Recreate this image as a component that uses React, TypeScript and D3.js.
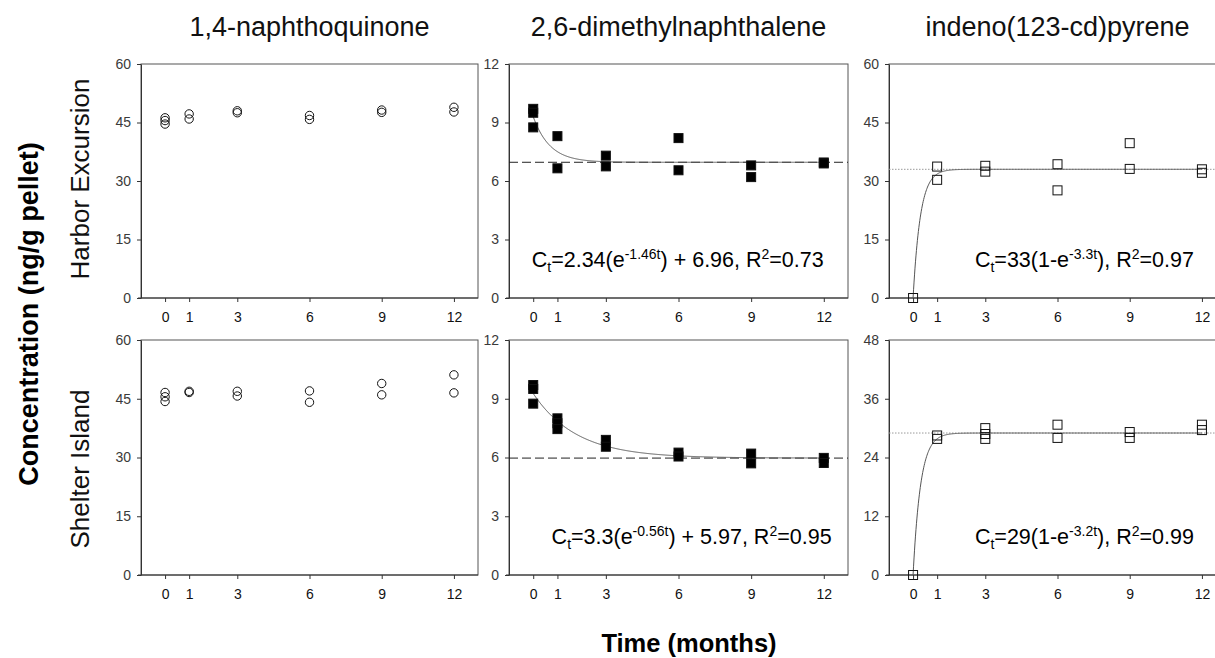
import React, { useEffect, useRef } from "react";
import * as d3 from "d3";

// sampling times (months) and chart labels
const months = [0, 1, 3, 6, 9, 12];
const compounds = ["1,4-naphthoquinone", "2,6-dimethylnaphthalene", "indeno(123-cd)pyrene"];
const sites = ["Harbor Excursion", "Shelter Island"];

// replicate concentrations (ng/g pellet), one list per sampling time
const harborNQ = [[46.2, 45.5, 44.6], [47.2, 45.9], [48.0, 47.5], [46.8, 45.8], [48.2, 47.6], [48.9, 47.7]];
const harborDMN = [[9.7, 9.5, 8.75], [8.3, 6.65], [7.3, 6.75], [8.2, 6.55], [6.8, 6.2], [6.95, 6.9]];
const harborIP = [[0], [33.7, 30.3], [33.9, 32.4], [34.3, 27.6], [39.7, 33.1], [33.0, 32.1]];
const shelterNQ = [[46.6, 45.5, 44.3], [46.9, 46.6], [46.9, 45.7], [47.0, 44.1], [48.9, 46.0], [51.1, 46.5]];
const shelterDMN = [[9.7, 9.5, 8.75], [8.0, 7.75, 7.45], [6.9, 6.55], [6.25, 6.05], [6.2, 5.7], [5.98, 5.72]];
const shelterIP = [[0], [28.5, 27.8], [30.0, 28.8, 27.8], [30.7, 28.0], [29.2, 28.0], [30.7, 29.6]];

// y axis maxima per panel (row x column)
const yMaxes = [[60, 12, 60], [60, 12, 48]];

// fitted model parameters
const harborDMNFit = { a: 2.34, k: 1.46, c: 6.96 };
const harborIPFit = { a: 33, k: 3.3 };
const shelterDMNFit = { a: 3.3, k: 0.56, c: 5.97 };
const shelterIPFit = { a: 29, k: 3.2 };

// equation labels: [text, "n" | "sub" | "sup"]
const harborDMNLabel = [["C", "n"], ["t", "sub"], ["=2.34(e", "n"], ["-1.46t", "sup"], [") + 6.96, R", "n"], ["2", "sup"], ["=0.73", "n"]];
const harborIPLabel = [["C", "n"], ["t", "sub"], ["=33(1-e", "n"], ["-3.3t", "sup"], ["), R", "n"], ["2", "sup"], ["=0.97", "n"]];
const shelterDMNLabel = [["C", "n"], ["t", "sub"], ["=3.3(e", "n"], ["-0.56t", "sup"], [") + 5.97, R", "n"], ["2", "sup"], ["=0.95", "n"]];
const shelterIPLabel = [["C", "n"], ["t", "sub"], ["=29(1-e", "n"], ["-3.2t", "sup"], ["), R", "n"], ["2", "sup"], ["=0.99", "n"]];

const FONT = "'Liberation Sans', Arial, sans-serif";

export default function App() {
  const ref = useRef<SVGSVGElement>(null);

  useEffect(() => {
    const svg = d3.select(ref.current);
    svg.selectAll("*").remove();

    const colLeft = [141, 509, 889];
    const colWidth = [337, 339, 337];
    const rowTop = [64, 340];
    const rowHeight = [234, 235];

    const panels = [
      { row: 0, col: 0, values: harborNQ, marker: "circle" },
      { row: 0, col: 1, values: harborDMN, marker: "filled", fit: harborDMNFit, kind: "decay", label: harborDMNLabel, labelT: -0.06 },
      { row: 0, col: 2, values: harborIP, marker: "open", fit: harborIPFit, kind: "rise", label: harborIPLabel, labelT: 2.57 },
      { row: 1, col: 0, values: shelterNQ, marker: "circle" },
      { row: 1, col: 1, values: shelterDMN, marker: "filled", fit: shelterDMNFit, kind: "decay", label: shelterDMNLabel, labelT: 0.76 },
      { row: 1, col: 2, values: shelterIP, marker: "open", fit: shelterIPFit, kind: "rise", label: shelterIPLabel, labelT: 2.57 },
    ];

    panels.forEach((p: any) => {
      const w = colWidth[p.col];
      const h = rowHeight[p.row];
      const yMax = yMaxes[p.row][p.col];
      const g = svg.append("g").attr("transform", `translate(${colLeft[p.col]},${rowTop[p.row]})`);

      const x = d3.scaleLinear().domain([-1, 13]).range([0, w]);
      const y = d3.scaleLinear().domain([0, yMax]).range([h, 0]);

      // frame
      g.append("rect").attr("width", w).attr("height", h)
        .attr("fill", "none").attr("stroke", "#555").attr("stroke-width", 1);

      const yAxis = g.append("g")
        .call(d3.axisLeft(y).tickValues(d3.range(0, yMax + 0.001, yMax / 4)).tickSize(4).tickSizeOuter(0).tickPadding(6));
      yAxis.select(".domain").attr("stroke", "#333");
      yAxis.selectAll("line").attr("stroke", "#333");
      yAxis.selectAll("text").attr("font-size", 14).attr("font-family", FONT).attr("fill", "#3a3a3a");

      const xAxis = g.append("g").attr("transform", `translate(0,${h})`)
        .call(d3.axisBottom(x).tickValues(months).tickSize(4).tickSizeOuter(0).tickPadding(10));
      xAxis.select(".domain").attr("d", `M-3,0H${w}`).attr("stroke", "#333");
      xAxis.selectAll("line").attr("stroke", "#333");
      xAxis.selectAll("text").attr("font-size", 14).attr("font-family", FONT).attr("fill", "#111");

      if (p.fit) {
        const f = p.fit;
        const model = p.kind === "decay"
          ? (t: number) => f.a * Math.exp(-f.k * t) + f.c
          : (t: number) => f.a * (1 - Math.exp(-f.k * t));
        const asym = p.kind === "decay" ? f.c : f.a;

        g.append("line")
          .attr("x1", 0).attr("x2", w).attr("y1", y(asym)).attr("y2", y(asym))
          .attr("stroke", p.kind === "decay" ? "#222" : "#999")
          .attr("stroke-width", 1)
          .attr("stroke-dasharray", p.kind === "decay" ? "9,4" : "1.5,1.5");

        const line = d3.line<number>().x(t => x(t)).y(t => y(model(t)));
        g.append("path")
          .datum(d3.range(0, 12.001, 0.02))
          .attr("d", line)
          .attr("fill", "none")
          .attr("stroke", "#555")
          .attr("stroke-width", 1);
      }

      const pts: { t: number; v: number }[] = [];
      p.values.forEach((vals: number[], i: number) => vals.forEach(v => pts.push({ t: months[i], v })));

      if (p.marker === "circle") {
        g.selectAll("circle.pt").data(pts).enter().append("circle")
          .attr("cx", d => x(d.t)).attr("cy", d => y(d.v)).attr("r", 4.2)
          .attr("fill", "none").attr("stroke", "#111").attr("stroke-width", 1);
      } else {
        const s = 9;
        g.selectAll("rect.pt").data(pts).enter().append("rect")
          .attr("x", d => x(d.t) - s / 2).attr("y", d => y(d.v) - s / 2)
          .attr("width", s).attr("height", s)
          .attr("fill", p.marker === "filled" ? "#000" : "none")
          .attr("stroke", "#111").attr("stroke-width", 1);
      }

      if (p.label) {
        const text = g.append("text")
          .attr("x", x(p.labelT)).attr("y", h - 31)
          .attr("font-family", FONT).attr("fill", "#000")
          .style("white-space", "pre");
        let cur = 0;
        p.label.forEach(([s, k]: string[]) => {
          const target = k === "sub" ? 5 : k === "sup" ? -8 : 0;
          text.append("tspan").attr("dy", target - cur)
            .attr("font-size", k === "n" ? 21.5 : 14).text(s);
          cur = target;
        });
      }
    });

    // column titles
    compounds.forEach((c, i) => {
      svg.append("text").attr("x", colLeft[i] + colWidth[i] / 2).attr("y", 36)
        .attr("text-anchor", "middle").attr("font-family", FONT).attr("font-size", 27)
        .attr("fill", "#111").text(c);
    });

    // row labels
    const rowCenters = [179, 469];
    sites.forEach((s, i) => {
      svg.append("text").attr("transform", `translate(89,${rowCenters[i]}) rotate(-90)`)
        .attr("text-anchor", "middle").attr("font-family", FONT).attr("font-size", 26)
        .attr("fill", "#111").text(s);
    });

    svg.append("text").attr("transform", "translate(38,314) rotate(-90)")
      .attr("text-anchor", "middle").attr("font-family", FONT).attr("font-size", 27)
      .attr("font-weight", "bold").attr("fill", "#000").text("Concentration (ng/g pellet)");

    svg.append("text").attr("x", 689).attr("y", 652)
      .attr("text-anchor", "middle").attr("font-family", FONT).attr("font-size", 25.5)
      .attr("font-weight", "bold").attr("fill", "#000").text("Time (months)");
  }, []);

  return (
    <svg ref={ref} width={1215} height={658}
      style={{ position: "absolute", left: 0, top: 0, background: "#fff" }} />
  );
}
